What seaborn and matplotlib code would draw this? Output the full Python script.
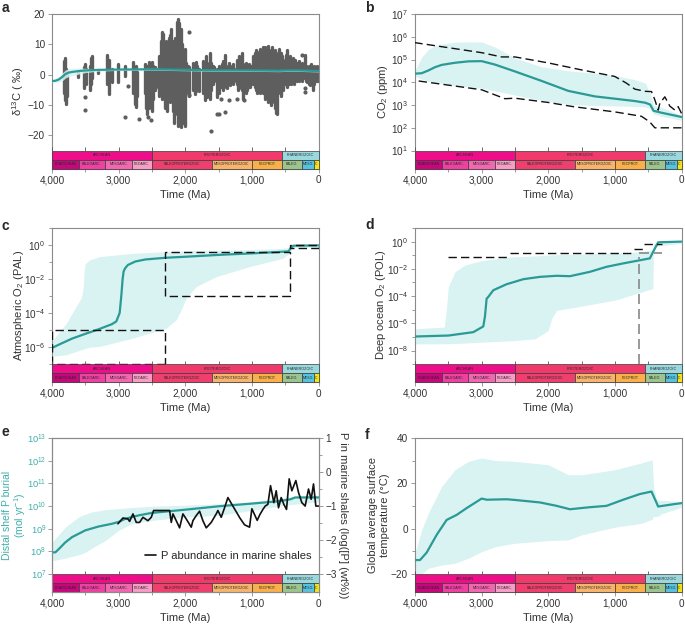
import numpy as np
import matplotlib
matplotlib.use("Agg")
import matplotlib.pyplot as plt
import seaborn as sns
from matplotlib.patches import Rectangle
from matplotlib.transforms import blended_transform_factory
from matplotlib.ticker import FixedLocator, FuncFormatter, NullFormatter

# ---------------- geological time scale ----------------
eon_names = ["ARCHEAN", "PROTEROZOIC", "PHANEROZOIC"]
eon_start = [4000, 2500, 541]
eon_end = [2500, 541, 0]
era_names = ["EOARCHEAN", "PALEOARC.", "MESOARC.", "NEOARC.", "PALEOPROTEROZOIC",
             "MESOPROTEROZOIC", "NEOPROT.", "PALEO.", "MESO.", "C"]
era_start = [4000, 3600, 3200, 2800, 2500, 1600, 1000, 541, 252, 66]
era_end = [3600, 3200, 2800, 2500, 1600, 1000, 541, 252, 66, 0]
eon_colors = ["#EE0E8A", "#F03A6B", "#9AD8DE"]
era_colors = ["#C8077C", "#F040A2", "#F366B0", "#F79DC6", "#EF3F6E",
              "#F8B46C", "#F9AF4A", "#9BC48F", "#55C3DF", "#F2E41C"]

x_major = [4000, 3000, 2000, 1000, 0]
x_major_labels = ["4,000", "3,000", "2,000", "1,000", "0"]
x_minor = [3500, 2500, 1500, 500]

# ---------------- panel a : d13C ----------------
d13c_col_age = [3815, 3800, 3785, 3775, 3605, 3525, 3505, 3490, 3435, 3420,
                3400, 3305, 3170, 3150, 3105, 3005, 2905, 2780, 2760, 2740,
                2720, 2605, 2590, 2570, 2550, 2535, 2500, 2480, 2460, 2440,
                2390, 2370, 2350, 2330, 2310, 2290, 2270, 2250, 2230, 2210,
                2190, 2170, 2150, 2130, 2110, 2090, 2070, 2050, 2030, 2010,
                1985, 1965, 1945, 1880, 1860, 1840, 1820, 1800, 1730, 1710,
                1690, 1670, 1650, 1630, 1610, 1590, 1570, 1530, 1510, 1490,
                1470, 1450, 1430, 1410, 1390, 1370, 1350, 1330, 1310, 1290,
                1270, 1230, 1210, 1190, 1170, 1150, 1130, 1110, 1090, 1070,
                1050, 1030, 1010, 980, 960, 940, 920, 900, 880, 860,
                840, 820, 800, 780, 760, 740, 720, 700, 680, 660,
                640, 625, 610, 590, 570, 550, 530, 510, 490, 470,
                450, 430, 410, 390, 370, 350, 330, 310, 290, 270,
                250, 230, 210, 190, 170, 150, 130, 110, 90, 70,
                50, 30, 10]
d13c_col_top = [4.5, 5.5, 2.0, 1.0, 1.0, 2.5, 3.5, 2.0, 3.0, 5.5,
                6.2, 1.2, 6.5, 5.0, 2.0, 3.5, 3.0, 4.2, 2.5, 3.0,
                1.0, 3.5, 2.0, 3.0, 4.2, 2.0, 4.3, 3.0, 2.5, 2.0,
                6.0, 11.0, 14.0, 13.5, 10.0, 11.0, 8.0, 12.0, 13.0, 15.0,
                11.0, 9.0, 12.0, 17.5, 18.5, 17.0, 15.0, 10.0, 6.0, 8.6,
                3.7, 3.0, 2.5, 4.0, 3.0, 4.2, 3.0, 2.0, 4.5, 3.0,
                6.0, 4.0, 3.0, 7.0, 4.0, 3.0, 2.5, 2.0, 1.5, 3.0,
                2.0, 3.5, 4.5, 6.5, 3.0, 2.5, 4.0, 3.0, 2.5, 3.5,
                2.0, 5.0, 4.0, 6.0, 4.0, 7.0, 3.5, 3.0, 4.0, 3.0,
                3.5, 2.0, 3.0, 6.0, 7.0, 8.0, 6.0, 7.5, 8.5, 7.0,
                9.0, 8.0, 9.0, 8.0, 9.5, 8.0, 7.0, 9.0, 6.0, 8.0,
                7.0, 5.0, 6.0, 8.5, 7.0, 6.0, 5.0, 4.0, 6.5, 8.0,
                5.0, 6.0, 4.0, 5.5, 4.0, 5.0, 4.0, 3.5, 4.5, 3.0,
                4.0, 2.5, 6.5, 3.0, 2.5, 3.0, 2.0, 3.5, 2.0, 3.0,
                2.5, 3.0, 2.5]
d13c_col_bot = [-6.0, -8.5, -9.5, -7.0, -0.8, -4.5, -2.0, -3.0, -5.2, -3.0,
                -1.0, 0.5, -3.0, -6.3, -2.5, -2.5, -0.5, -6.0, -9.5, -10.5,
                -7.0, -6.0, -11.0, -13.0, -11.0, -8.0, -12.0, -8.0, -5.0, -4.0,
                -7.0, -3.0, -8.0, -6.0, -11.0, -9.0, -12.0, -6.0, -9.0, -5.0,
                -12.0, -16.0, -13.0, -10.0, -17.0, -14.0, -17.3, -12.0, -16.0, -17.0,
                -6.0, -5.0, -7.0, -5.0, -6.2, -5.5, -4.0, -5.5, -6.0, -8.5,
                -5.0, -7.5, -6.0, -8.0, -5.0, -3.0, -2.0, -7.5, -5.0, -6.0,
                -4.0, -3.5, -5.0, -3.0, -4.0, -4.5, -2.5, -3.5, -2.5, -3.0,
                -2.0, -3.0, -5.0, -3.5, -4.5, -5.0, -8.0, -5.0, -6.0, -5.0,
                -4.0, -4.0, -3.0, -3.0, -4.0, -5.0, -6.0, -4.0, -6.0, -5.0,
                -6.0, -4.0, -8.0, -6.0, -9.0, -7.0, -10.0, -9.0, -8.0, -11.0,
                -12.5, -13.0, -6.0, -5.0, -7.0, -4.0, -5.0, -3.0, -3.0, -4.0,
                -3.0, -2.5, -3.0, -2.0, -3.0, -2.0, -2.0, -1.5, -2.0, -1.0,
                -2.0, -1.0, -1.0, -2.0, -2.5, -3.0, -3.5, -3.0, -5.0, -3.0,
                -2.0, -2.0, -2.0]
d13c_out_age = [3500, 3500, 2905, 2865, 2700, 2560, 2510, 1948, 1950, 1620,
                1520, 1490, 1410, 1458, 1340, 1220, 1120, 250, 200, 200]
d13c_out_val = [-7.2, -11.6, -14.0, -3.6, -14.5, -14.0, -15.0, 14.0, -6.8, -18.6,
                -12.8, -12.8, -12.3, -7.9, -8.3, -8.0, -8.5, 6.6, -4.3, -5.7]
a_age = [4000, 3950, 3900, 3850, 3800, 3750, 3700, 3600, 3500, 3300, 3000,
         2500, 2000, 1500, 1000, 600, 450, 300, 0]
a_mean = [-2.1, -2.0, -1.6, -0.8, 0.2, 0.7, 0.9, 1.2, 1.4, 1.6, 1.7,
          1.8, 1.6, 1.4, 1.4, 1.3, 1.4, 1.4, 1.2]
a_hi = [-1.6, -1.3, -0.6, 0.5, 1.5, 2.0, 2.1, 2.2, 2.1, 2.0, 2.0,
        2.1, 1.9, 1.7, 1.7, 1.6, 1.7, 1.7, 1.5]
a_lo = [-2.6, -2.6, -2.5, -2.1, -1.1, -0.6, -0.3, 0.2, 0.7, 1.2, 1.4,
        1.5, 1.3, 1.1, 1.1, 1.0, 1.1, 1.1, 0.9]

# ---------------- panel b : CO2 (ppm) ----------------
b_age = [4000, 3900, 3800, 3700, 3600, 3400, 3200, 3000, 2800, 2500,
         2100, 1700, 1300, 1000, 700, 541, 470, 420, 300, 0]
b_mean = [2.4e4, 2.5e4, 3.3e4, 4.6e4, 5.8e4, 7.2e4, 8.3e4, 8.5e4, 6.0e4, 3.0e4,
          1.15e4, 4.2e3, 2.4e3, 1.9e3, 1.5e3, 1.26e3, 1.05e3, 560, 460, 300]
b_hi = [3.2e4, 1.26e5, 2.75e5, 4.0e5, 4.8e5, 5.8e5, 6.0e5, 5.9e5, 3.5e5, 1.17e5,
        4.8e4, 3.2e4, 2.5e4, 2.0e4, 1.3e4, 9.1e3, 3.2e3, 1.0e3, 790, 355]
b_lo = [1.8e4, 1.4e4, 1.1e4, 1.0e4, 9.1e3, 7.1e3, 6.2e3, 5.5e3, 4.2e3, 2.75e3,
        1.6e3, 1.05e3, 950, 910, 870, 830, 710, 400, 320, 215]
b_proxy_hi_age = [4000, 3000, 2700, 2500, 2000, 1500, 1000, 825, 700, 541,
                  450, 400, 350, 325, 250, 175, 100, 50, 0]
b_proxy_hi = [5.5e5, 2.0e5, 1.3e5, 1.3e5, 7.1e4, 3.5e4, 1.8e4, 9.1e3, 5.0e3, 4.0e3,
              3.9e3, 1.7e3, 600, 1.2e3, 2.3e3, 900, 600, 850, 430]
b_proxy_lo_age = [4000, 3000, 2650, 2500, 2000, 1625, 1000, 600, 475, 400, 300, 0]
b_proxy_lo = [1.2e4, 4.7e3, 1.9e3, 2.0e3, 1.3e3, 850, 500, 320, 180, 100, 100, 100]

# ---------------- panel c : atmospheric O2 (log10 PAL) ----------------
c_age = [4000, 3900, 3700, 3500, 3300, 3100, 3035, 2985, 2960, 2940, 2925, 2900,
         2860, 2750, 2600, 2300, 2000, 1500, 1000, 600, 450, 420, 380, 0]
c_log = [-6.05, -5.86, -5.5, -5.22, -4.95, -4.65, -4.49, -4.0, -3.0, -2.0, -1.55, -1.35,
         -1.17, -0.97, -0.85, -0.75, -0.69, -0.58, -0.49, -0.41, -0.37, -0.2, -0.04, -0.02]
c_band_age = [4000, 3785, 3635, 3560, 3535, 3515, 3500, 3435, 3285, 2785, 2285,
              2135, 2060, 1985, 1835, 1535, 1035, 535, 435, 385, 0]
c_band_hi = [-5.66, -4.6, -3.6, -3.1, -2.64, -1.4, -1.1, -0.88, -0.68, -0.49, -0.39,
             -0.37, -0.36, -0.35, -0.33, -0.31, -0.27, -0.2, -0.14, 0.0, 0.04]
c_band_lo = [-6.54, -6.45, -6.25, -6.15, -6.12, -6.1, -6.08, -6.0, -5.96, -5.47, -4.88,
             -4.39, -3.8, -3.1, -2.44, -1.86, -1.27, -0.78, -0.49, -0.14, -0.1]
c_box_old = [4000, 2300, 430]
c_box_young = [2300, 430, 0]
c_box_lo = [1e-7, 1e-3, 0.63]
c_box_hi = [1e-5, 0.41, 1.0]

# ---------------- panel d : deep ocean O2 (log10 POL) ----------------
d_age = [4000, 3500, 3125, 2975, 2950, 2925, 2900, 2825, 2625, 2375,
         2125, 1875, 1675, 1375, 1125, 875, 475, 425, 350, 0]
d_log = [-6.97, -6.9, -6.65, -6.23, -5.5, -4.19, -4.06, -3.57, -3.13, -2.76,
         -2.59, -2.51, -2.54, -2.22, -1.85, -1.6, -1.23, -0.74, -0.05, 0.0]
d_band_age = [4000, 3560, 3530, 3500, 3400, 3250, 3000, 2750, 2500, 2200,
              2000, 1950, 1875, 1625, 1000, 600, 430, 420, 0]
d_band_hi = [-6.4, -6.28, -5.05, -3.33, -2.22, -1.72, -1.4, -1.23, -1.11, -1.05,
             -0.99, -0.98, -0.96, -0.93, -0.86, -0.74, -0.62, -0.12, 0.0]
d_band_lo = [-7.51, -7.51, -7.5, -7.5, -7.48, -7.45, -7.39, -7.33, -7.27, -7.14,
             -6.53, -5.67, -5.05, -4.85, -4.3, -3.7, -3.45, -0.37, -0.12]
d_blk_old = [3500, 2575, 720, 560]
d_blk_young = [2575, 720, 560, 300]
d_blk_val = [0.078, 0.155, 0.27, 0.63]
d_grey_h_old = [635]
d_grey_h_young = [300]
d_grey_h_val = [0.14]
d_grey_v_age = [635]
d_grey_v_lo = [1e-9]
d_grey_v_hi = [0.078]

# ---------------- panel e : P burial (log10 mol/yr) and shale P ----------------
e_age = [4000, 3950, 3900, 3800, 3700, 3500, 3300, 3100, 3000, 2900,
         2700, 2500, 2000, 1500, 1000, 600, 420, 350, 0]
e_log = [7.96, 7.96, 8.1, 8.4, 8.63, 8.93, 9.1, 9.22, 9.3, 9.44,
         9.59, 9.7, 9.84, 9.99, 10.11, 10.21, 10.3, 10.38, 10.38]
e_band_age = [4000, 3800, 3600, 3500, 3400, 3200, 3000, 2800, 2500, 2000, 1500, 1000, 500, 0]
e_band_hi = [8.4, 9.07, 9.52, 9.64, 9.74, 9.84, 9.89, 9.94, 9.99, 10.04, 10.1, 10.19, 10.38, 10.48]
e_band_lo = [7.59, 7.71, 7.85, 7.96, 8.15, 8.48, 8.93, 9.22, 9.37, 9.52, 9.59, 9.81, 10.04, 10.19]
shale_age = [3010, 2935, 2860, 2835, 2785, 2735, 2685, 2635, 2560, 2510,
             2475, 2235, 2210, 2185, 2135, 2085, 2035, 1985, 1910, 1885,
             1835, 1785, 1735, 1685, 1610, 1535, 1510, 1460, 1410, 1360,
             1300, 1240, 1180, 1110, 1035, 1000, 960, 920, 880, 835,
             800, 760, 720, 670, 635, 600, 560, 520, 480, 440,
             400, 340, 300, 250, 200, 150, 110, 75, 40, 0]
shale_logP = [-1.52, -1.35, -1.38, -1.45, -1.23, -1.48, -1.48, -1.33, -1.43, -1.33,
              -1.13, -1.13, -1.48, -1.23, -1.43, -1.64, -1.23, -1.38, -1.62, -1.43,
              -1.28, -1.15, -1.43, -1.64, -1.48, -1.23, -1.13, -1.33, -1.05, -0.75,
              -0.95, -1.15, -1.35, -1.55, -1.62, -1.08, -1.25, -1.42, -1.25, -1.1,
              -1.0, -0.95, -0.4, -0.9, -0.55, -1.05, -0.75, -0.95, -1.1, -0.2,
              -0.55, -0.25, -0.6, -0.9, -1.0, -0.5, -0.8, -0.35, -1.0, -1.0]

# ---------------- panel f : temperature ----------------
f_age = [4000, 3925, 3825, 3675, 3525, 3375, 3225, 3000, 2925, 2625, 2500,
         2125, 1875, 1675, 1375, 1125, 875, 625, 450, 350, 125, 0]
f_mean = [-13.8, -13.8, -10.5, -2.7, 3.9, 6.1, 9.1, 13.3, 12.8, 13.0, 12.7,
          11.6, 10.1, 8.6, 9.5, 10.1, 12.8, 15.3, 16.4, 9.8, 10.8, 11.3]
f_band_age = [4000, 3900, 3800, 3600, 3400, 3200, 3000, 2800, 2500, 2000,
              1700, 1500, 1000, 600, 440, 420, 380, 350, 300, 0]
f_band_hi = [-10.8, -0.5, 6.9, 18.6, 26.0, 29.7, 31.2, 30.1, 29.7, 28.2,
             23.8, 23.8, 26.0, 29.0, 30.4, 18.6, 13.5, 12.5, 12.5, 12.0]
f_band_lo = [-22.0, -20.0, -17.4, -16.0, -15.2, -13.0, -10.1, -7.9, -6.4, -5.2,
             -4.9, -2.7, 0.7, 2.4, 4.2, 5.4, 5.4, 5.5, 6.6, 9.5]

# ---------------- styling ----------------
sns.set_theme(style="white")
plt.rcParams["font.family"] = ["Liberation Sans", "DejaVu Sans"]
plt.rcParams["mathtext.fontset"] = "custom"
plt.rcParams["mathtext.rm"] = "Liberation Sans"
plt.rcParams["mathtext.it"] = "Liberation Sans:italic"
plt.rcParams["mathtext.bf"] = "Liberation Sans:bold"
plt.rcParams["mathtext.default"] = "regular"

TEAL = "#2A9A96"
TEAL_LIGHT = "#40AFA9"
BANDC = "#D9F2F2"
GREY = "#5E5E5E"
SPINE = "#8A8A8A"
TXT = "#333333"
BAND = 0.116
FS_TICK = 7.2
FS_LAB = 8

fig = plt.figure(figsize=(6.85, 6.26), dpi=100)


def px_axes(x0, x1, top, bottom):
    return fig.add_axes([x0 / 685, 1 - bottom / 626, (x1 - x0) / 685, (bottom - top) / 626])


def lin_lim(hi, bt):
    return (bt - (hi - bt) * BAND / (1 - BAND), hi)


def log_lim(hi, bt):
    lh, lb = np.log10(hi), np.log10(bt)
    return (10 ** (lb - (lh - lb) * BAND / (1 - BAND)), hi)


logfmt = FuncFormatter(lambda v, p: "$10^{%d}$" % int(round(np.log10(v))))
minusfmt = FuncFormatter(lambda v, p: "\u2212%d" % abs(v) if v < 0 else "%d" % v)


def base(ax, ylabel, ylab_x, yfs=FS_LAB, ls=1.2):
    ax.set_xlim(4000, 0)
    for s in ax.spines.values():
        s.set_color(SPINE)
        s.set_linewidth(0.8)
    ax.xaxis.set_major_locator(FixedLocator(x_major))
    ax.set_xticklabels(x_major_labels)
    ax.xaxis.set_minor_locator(FixedLocator(x_minor))
    ax.tick_params(axis="both", which="both", direction="out", length=3, width=0.6,
                   color=SPINE, labelsize=FS_TICK, labelcolor=TXT, pad=2,
                   bottom=True, left=True)
    ax.tick_params(axis="both", which="minor", length=2)
    ax.set_xlabel("Time (Ma)", fontsize=FS_LAB, color=TXT, labelpad=3)
    ax.set_ylabel(ylabel, fontsize=yfs, color=TXT, linespacing=ls)
    ax.yaxis.set_label_coords(ylab_x, 0.5)
    ax.set_facecolor("white")


def timescale(ax):
    tr = blended_transform_factory(ax.transData, ax.transAxes)
    h = BAND / 2
    for name, old, young, col in zip(eon_names, eon_start, eon_end, eon_colors):
        ax.add_patch(Rectangle((young, h), old - young, h, transform=tr, facecolor=col,
                               edgecolor="#3A3A3A", lw=0.5, zorder=8, clip_on=False))
        ax.text((old + young) / 2, h * 1.5, name, transform=tr, ha="center", va="center",
                fontsize=2.7, color="#2A2A2A", zorder=9)
    for name, old, young, col in zip(era_names, era_start, era_end, era_colors):
        ax.add_patch(Rectangle((young, 0), old - young, h, transform=tr, facecolor=col,
                               edgecolor="#3A3A3A", lw=0.5, zorder=8, clip_on=False))
        ax.text((old + young) / 2, h * 0.5, name, transform=tr, ha="center", va="center",
                fontsize=2.5, color="#2A2A2A", zorder=9)
    ax.vlines(x_major + x_minor, BAND, BAND + 0.02, transform=tr, color="#555555",
              lw=0.6, zorder=9)


def letter(x, y, s):
    fig.text(x / 685, 1 - y / 626, s, fontsize=10, fontweight="bold", ha="left", va="center")


# ---- a ----
ax = px_axes(52, 318.5, 14, 168.5)
base(ax, "δ$^{13}$C ( ‰)", -0.098)
ax.set_ylim(*lin_lim(20, -25))
ax.yaxis.set_major_locator(FixedLocator([-20, -10, 0, 10, 20]))
ax.yaxis.set_major_formatter(minusfmt)
vl = ax.vlines(d13c_col_age, d13c_col_bot, d13c_col_top, color=GREY, lw=2.4, zorder=2)
vl.set_capstyle("round")
sns.scatterplot(x=d13c_out_age, y=d13c_out_val, ax=ax, color=GREY, s=9, linewidth=0,
                zorder=2, legend=False)
ax.fill_between(a_age, a_lo, a_hi, color=BANDC, alpha=0.85, lw=0, zorder=3)
sns.lineplot(x=a_age, y=a_mean, ax=ax, color=TEAL, lw=1.6, estimator=None, zorder=4)
timescale(ax)
letter(2, 8, "a")

# ---- b ----
ax = px_axes(415, 681.5, 14, 168.5)
base(ax, "CO$_2$ (ppm)", -0.094)
ax.set_yscale("log")
ax.set_ylim(*log_lim(1e7, 1e1))
ax.yaxis.set_major_locator(FixedLocator([1e1, 1e2, 1e3, 1e4, 1e5, 1e6, 1e7]))
ax.yaxis.set_major_formatter(logfmt)
ax.yaxis.set_minor_locator(FixedLocator([]))
ax.fill_between(b_age, b_lo, b_hi, color=BANDC, lw=0, zorder=1)
sns.lineplot(x=b_age, y=b_mean, ax=ax, color=TEAL, lw=1.6, estimator=None, zorder=4)
sns.lineplot(x=b_proxy_hi_age, y=b_proxy_hi, ax=ax, color="#111111", lw=1.0,
             linestyle=(0, (6, 3)), estimator=None, zorder=5)
sns.lineplot(x=b_proxy_lo_age, y=b_proxy_lo, ax=ax, color="#111111", lw=1.0,
             linestyle=(0, (6, 3)), estimator=None, zorder=5)
timescale(ax)
letter(365, 8, "b")

# ---- c ----
ax = px_axes(52, 318.5, 228, 382)
base(ax, "Atmospheric O$_2$ (PAL)", -0.098)
ax.set_yscale("log")
ax.set_ylim(*log_lim(1e1, 1e-7))
ax.yaxis.set_major_locator(FixedLocator([1e-6, 1e-4, 1e-2, 1e0]))
ax.yaxis.set_minor_locator(FixedLocator([1e-7, 1e-5, 1e-3, 1e-1, 1e1]))
ax.yaxis.set_major_formatter(logfmt)
ax.yaxis.set_minor_formatter(NullFormatter())
ax.fill_between(c_band_age, 10 ** np.array(c_band_lo), 10 ** np.array(c_band_hi),
                color=BANDC, lw=0, zorder=1)
sns.lineplot(x=c_age, y=10 ** np.array(c_log), ax=ax, color=TEAL, lw=1.6,
             estimator=None, zorder=4)
for o, yg, lo, hi in zip(c_box_old, c_box_young, c_box_lo, c_box_hi):
    ax.add_patch(Rectangle((yg, lo), o - yg, hi - lo, fill=False, edgecolor="#111111",
                           lw=1.0, linestyle=(0, (6, 3)), zorder=5))
timescale(ax)
letter(2, 226, "c")

# ---- d ----
ax = px_axes(415, 681.5, 228, 382)
base(ax, "Deep ocean O$_2$ (POL)", -0.10)
ax.set_yscale("log")
ax.set_ylim(*log_lim(1e1, 1e-9))
ax.yaxis.set_major_locator(FixedLocator([1e-8, 1e-6, 1e-4, 1e-2, 1e0]))
ax.yaxis.set_minor_locator(FixedLocator([1e-9, 1e-7, 1e-5, 1e-3, 1e-1, 1e1]))
ax.yaxis.set_major_formatter(logfmt)
ax.yaxis.set_minor_formatter(NullFormatter())
ax.fill_between(d_band_age, 10 ** np.array(d_band_lo), 10 ** np.array(d_band_hi),
                color=BANDC, lw=0, zorder=1)
sns.lineplot(x=d_age, y=10 ** np.array(d_log), ax=ax, color=TEAL, lw=1.6,
             estimator=None, zorder=4)
ax.hlines(d_blk_val, d_blk_old, d_blk_young, color="#111111", lw=1.0,
          linestyle=(0, (6, 3)), zorder=5)
ax.hlines(d_grey_h_val, d_grey_h_old, d_grey_h_young, color="#888888", lw=1.2,
          linestyle=(0, (6, 3)), zorder=5)
ax.vlines(d_grey_v_age, d_grey_v_lo, d_grey_v_hi, color="#888888", lw=1.2,
          linestyle=(0, (6, 3)), zorder=5)
timescale(ax)
letter(365, 225, "d")

# ---- e ----
ax = px_axes(52, 318.5, 438, 592)
base(ax, "Distal shelf P burial\n(mol yr$^{-1}$)", -0.138, yfs=7.5, ls=1.0)
ax.yaxis.label.set_color(TEAL_LIGHT)
ax.yaxis.label.set_verticalalignment("center")
ax.set_yscale("log")
ax.set_ylim(*log_lim(1e13, 1e7))
ax.yaxis.set_major_locator(FixedLocator([1e7, 1e8, 1e9, 1e10, 1e11, 1e12, 1e13]))
ax.yaxis.set_minor_locator(FixedLocator([]))
ax.yaxis.set_major_formatter(logfmt)
ax.tick_params(axis="y", labelcolor=TEAL_LIGHT, pad=1.2, labelsize=6.7)
ax.fill_between(e_band_age, 10 ** np.array(e_band_lo), 10 ** np.array(e_band_hi),
                color=BANDC, lw=0, zorder=1)
sns.lineplot(x=e_age, y=10 ** np.array(e_log), ax=ax, color=TEAL, lw=1.6,
             estimator=None, zorder=4)
timescale(ax)
ax2 = ax.twinx()
ax2.set_ylim(*lin_lim(1, -3))
ax2.yaxis.set_major_locator(FixedLocator([-3, -2, -1, 0, 1]))
ax2.yaxis.set_minor_locator(FixedLocator([-2.5, -1.5, -0.5, 0.5]))
ax2.yaxis.set_major_formatter(minusfmt)
for s in ax2.spines.values():
    s.set_color(SPINE)
    s.set_linewidth(0.8)
ax2.tick_params(axis="y", which="both", direction="out", length=3, width=0.6, color=SPINE,
                labelsize=FS_TICK, labelcolor=TXT, pad=2, right=True)
ax2.tick_params(axis="y", which="minor", length=2)
sns.lineplot(x=shale_age, y=shale_logP, ax=ax2, color="#111111", lw=1.2, estimator=None,
             label="P abundance in marine shales", zorder=5)
ax2.legend(loc="center right", bbox_to_anchor=(1.0, 0.234), frameon=False,
           fontsize=FS_LAB, handlelength=1.0, handletextpad=0.5, borderaxespad=0.2)
ax2.set_ylabel("P in marine shales (log([P] (wt%))", rotation=270, fontsize=FS_LAB,
               color=TXT, labelpad=8)
ax2.grid(False)
letter(2, 432, "e")

# ---- f ----
ax = px_axes(415, 681.5, 438, 592)
base(ax, "Global average surface\ntemperature (°C)", -0.094)
ax.set_ylim(*lin_lim(40, -20))
ax.yaxis.set_major_locator(FixedLocator([-20, 0, 20, 40]))
ax.yaxis.set_minor_locator(FixedLocator([-10, 10, 30]))
ax.yaxis.set_major_formatter(minusfmt)
ax.fill_between(f_band_age, f_band_lo, f_band_hi, color=BANDC, lw=0, zorder=1)
sns.lineplot(x=f_age, y=f_mean, ax=ax, color=TEAL, lw=1.6, estimator=None, zorder=4)
timescale(ax)
letter(365, 435, "f")

fig.savefig("out.png", dpi=100)
